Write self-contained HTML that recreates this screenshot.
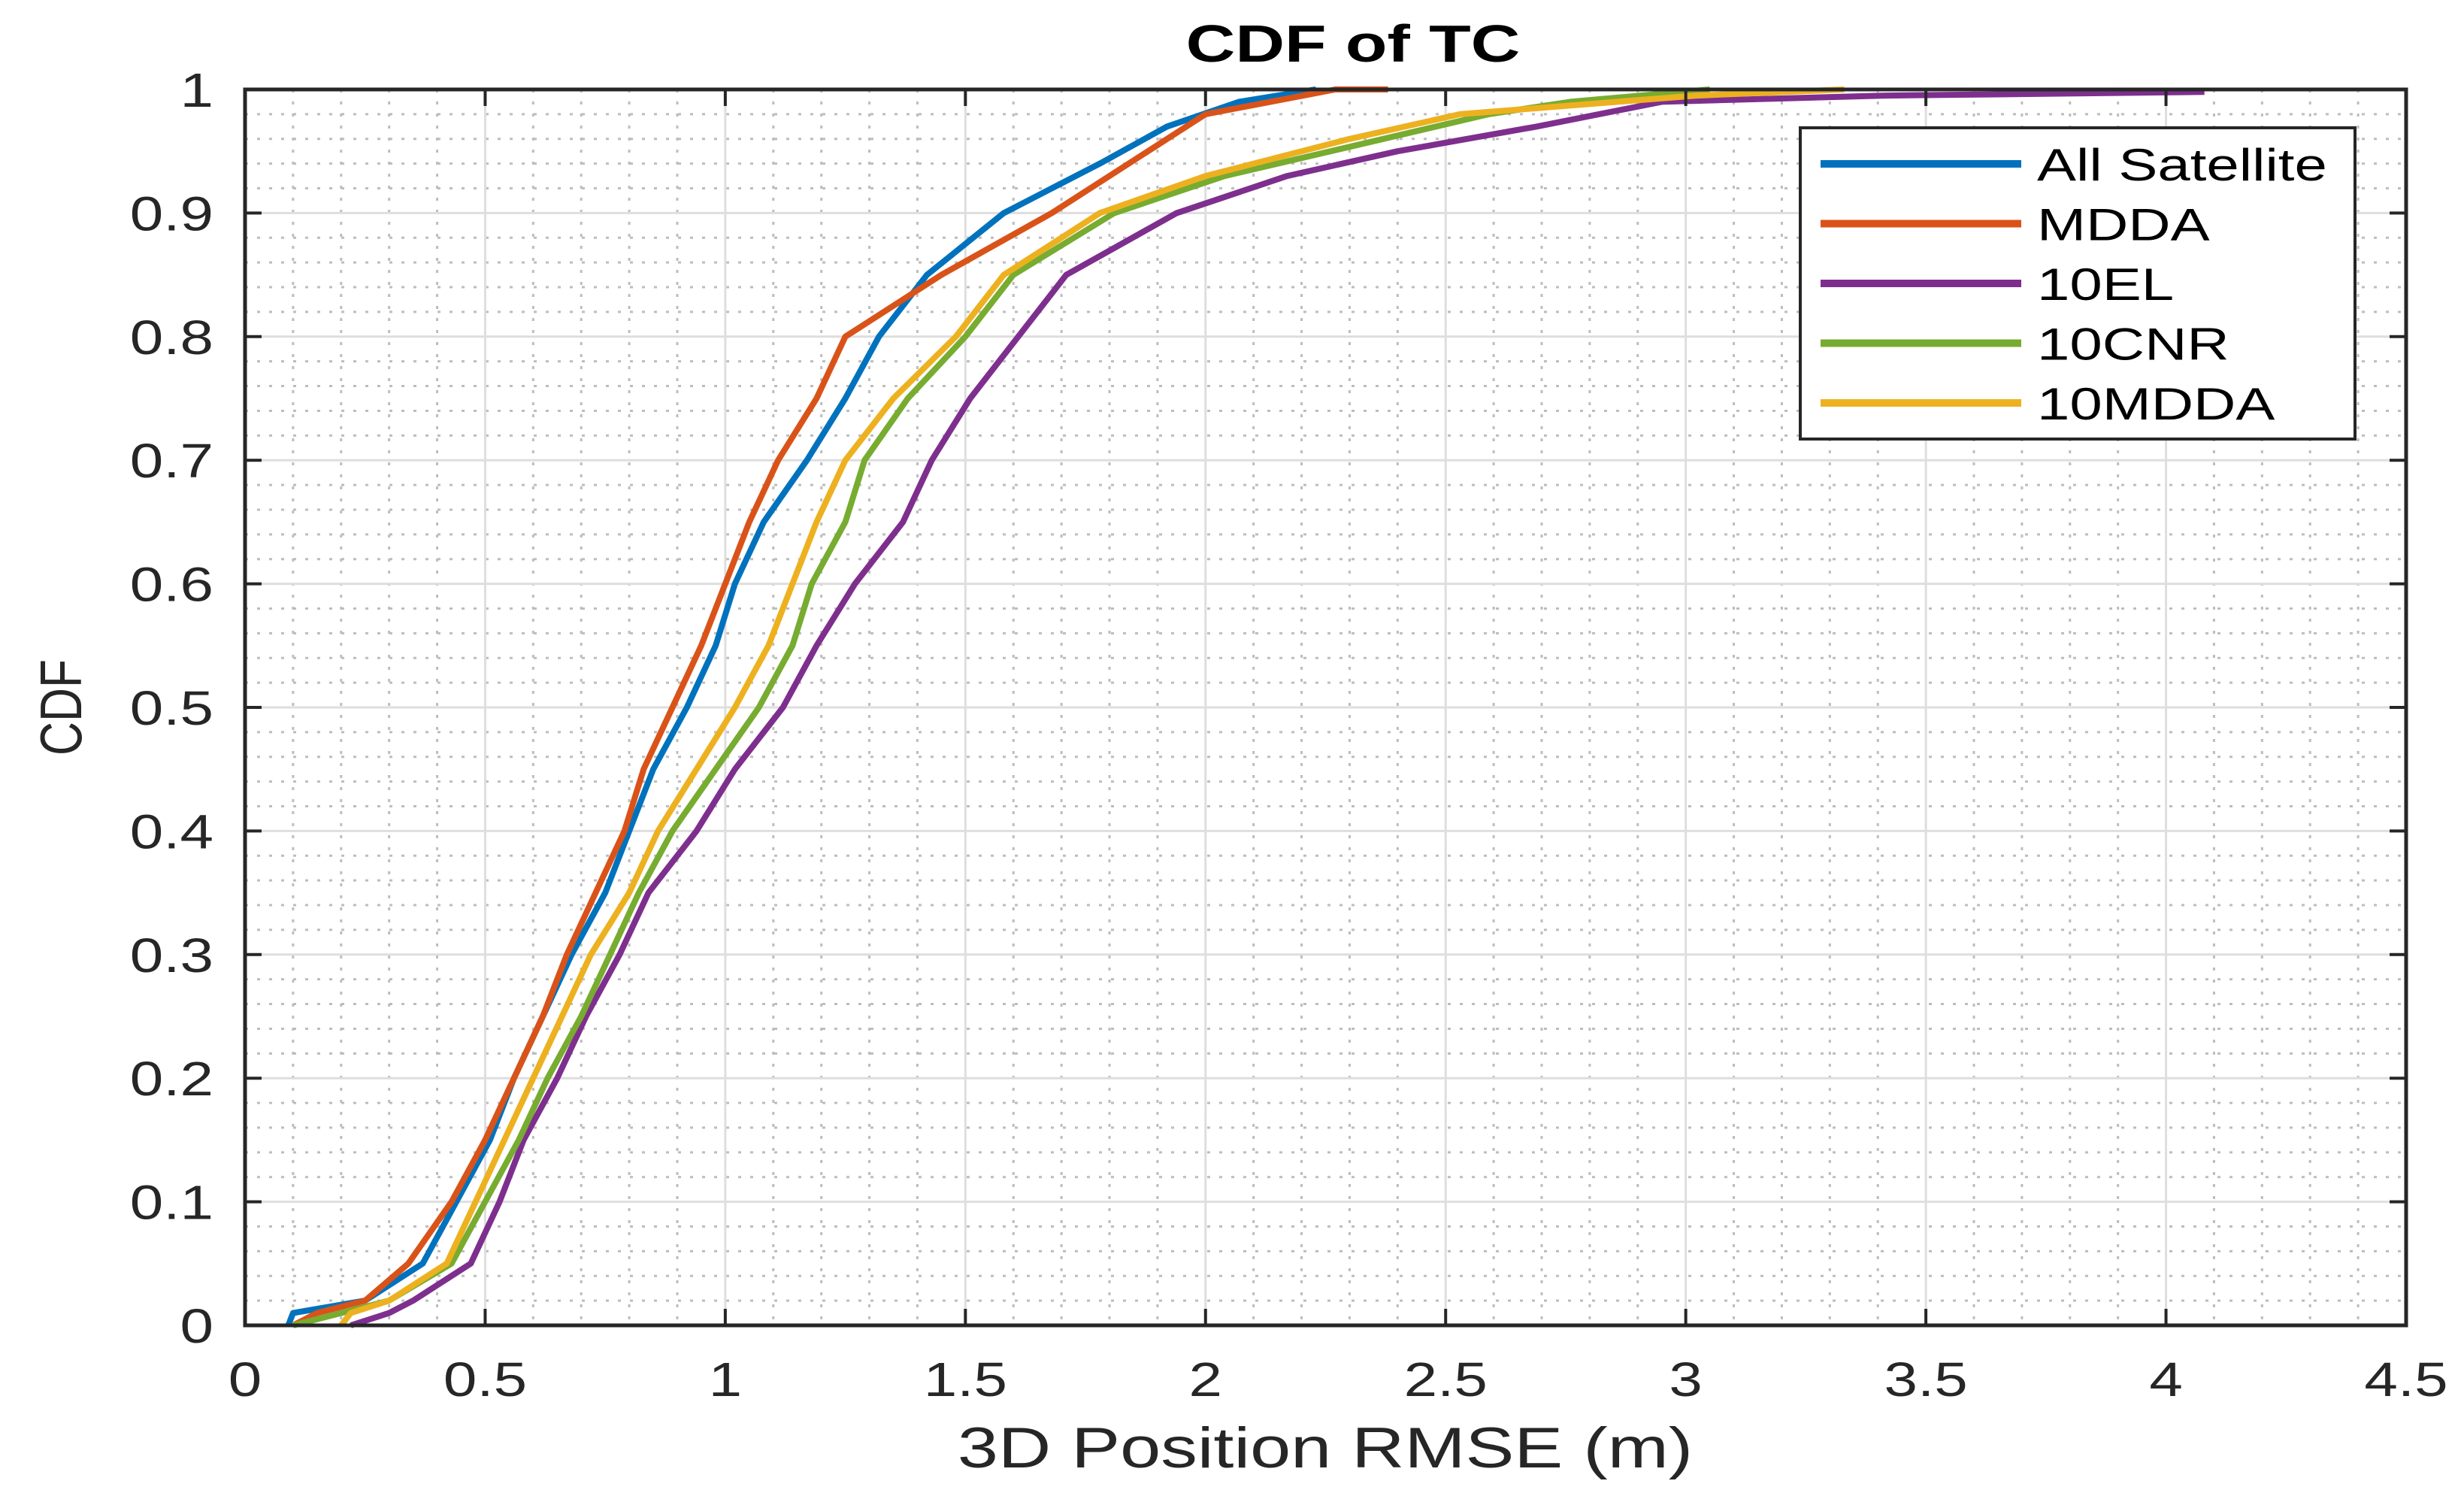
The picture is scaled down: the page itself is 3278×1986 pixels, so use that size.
<!DOCTYPE html>
<html><head><meta charset="utf-8"><style>
body{margin:0;background:#fff}
svg{display:block}
text{font-family:"Liberation Sans",sans-serif;fill:#262626}
</style></head><body>
<svg id="chart" width="3278" height="1986" viewBox="0 0 3278 1986" xmlns="http://www.w3.org/2000/svg">
<rect width="3278" height="1986" fill="#fff"/>
<g id="grid"></g>
<g id="series"></g>
<rect x="326" y="119" width="2875" height="1644" fill="none" stroke="#262626" stroke-width="5"/>
<g id="ticks"></g>
<text transform="translate(1800,82) scale(1.3,1)" font-size="70" font-weight="bold" text-anchor="middle" style="fill:#000">CDF of TC</text>
<text transform="translate(1763,1952) scale(1.28,1)" font-size="76" text-anchor="middle">3D Position RMSE (m)</text>
<text transform="translate(108,941) rotate(-90)" font-size="78" text-anchor="middle" textLength="128" lengthAdjust="spacingAndGlyphs">CDF</text>
<g id="legend"></g>
</svg>
<script>
const xTicks=[0,0.5,1,1.5,2,2.5,3,3.5,4,4.5];
const xTickLabels=["0","0.5","1","1.5","2","2.5","3","3.5","4","4.5"];
const yTicks=[0,0.1,0.2,0.3,0.4,0.5,0.6,0.7,0.8,0.9,1];
const yTickLabels=["0","0.1","0.2","0.3","0.4","0.5","0.6","0.7","0.8","0.9","1"];
const seriesNames=["All Satellite","MDDA","10EL","10CNR","10MDDA"];
const seriesColors=["#0072BD","#D95319","#7E2F8E","#77AC30","#EDB120"];
const allSatX=[0.09,0.10,0.25,0.37,0.44,0.51,0.56,0.62,0.68,0.75,0.80,0.85,0.92,0.98,1.02,1.08,1.17,1.25,1.32,1.42,1.58,1.78,1.92,2.07,2.23];
const allSatY=[0,0.01,0.02,0.05,0.1,0.15,0.2,0.25,0.3,0.35,0.4,0.45,0.5,0.55,0.6,0.65,0.7,0.75,0.8,0.85,0.9,0.94,0.97,0.99,1.0];
const mddaX=[0.10,0.15,0.25,0.34,0.43,0.50,0.56,0.62,0.67,0.73,0.79,0.83,0.89,0.95,1.00,1.05,1.11,1.19,1.25,1.45,1.68,1.88,2.00,2.27,2.38];
const mddaY=[0,0.01,0.02,0.05,0.1,0.15,0.2,0.25,0.3,0.35,0.4,0.45,0.5,0.55,0.6,0.65,0.7,0.75,0.8,0.85,0.9,0.95,0.98,1.0,1.0];
const el10X=[0.22,0.30,0.35,0.47,0.53,0.58,0.65,0.71,0.78,0.84,0.94,1.02,1.12,1.19,1.27,1.37,1.43,1.51,1.61,1.71,1.94,2.17,2.40,2.69,2.95,3.41,4.08];
const el10Y=[0,0.01,0.02,0.05,0.1,0.15,0.2,0.25,0.3,0.35,0.4,0.45,0.5,0.55,0.6,0.65,0.7,0.75,0.8,0.85,0.9,0.93,0.95,0.97,0.99,0.995,0.998];
const cnr10X=[0.10,0.20,0.30,0.43,0.50,0.57,0.63,0.70,0.76,0.82,0.89,0.98,1.07,1.14,1.18,1.25,1.29,1.38,1.50,1.60,1.81,2.04,2.37,2.59,2.76,3.05];
const cnr10Y=[0,0.01,0.02,0.05,0.1,0.15,0.2,0.25,0.3,0.35,0.4,0.45,0.5,0.55,0.6,0.65,0.7,0.75,0.8,0.85,0.9,0.93,0.96,0.98,0.99,1.0];
const mdda10X=[0.20,0.22,0.30,0.42,0.48,0.54,0.60,0.66,0.72,0.80,0.86,0.94,1.02,1.09,1.14,1.19,1.25,1.35,1.48,1.58,1.78,2.00,2.30,2.53,3.02,3.33];
const mdda10Y=[0,0.01,0.02,0.05,0.1,0.15,0.2,0.25,0.3,0.35,0.4,0.45,0.5,0.55,0.6,0.65,0.7,0.75,0.8,0.85,0.9,0.93,0.96,0.98,0.995,1.0];
const seriesX=[allSatX,mddaX,el10X,cnr10X,mdda10X];
const seriesY=[allSatY,mddaY,el10Y,cnr10Y,mdda10Y];

const NS="http://www.w3.org/2000/svg";
const X0=326,X1=3201,Y0=1763,Y1=119;
const sx=v=>X0+(v-0)/(4.5-0)*(X1-X0);
const sy=v=>Y0-(v-0)/(1-0)*(Y0-Y1);
function mk(tag,attrs,parent){const e=document.createElementNS(NS,tag);for(const k in attrs)e.setAttribute(k,attrs[k]);parent.appendChild(e);return e;}
const grid=document.getElementById('grid');
for(let i=1;i<45;i++){if(i%5===0)continue;const x=sx(i*0.1);
 const l=mk('line',{x1:x,x2:x,y1:Y1,y2:Y0,stroke:'#bdbdbd','stroke-width':3,'stroke-dasharray':'4 12'},grid);
 
 }
for(let i=1;i<50;i++){if(i%5===0)continue;const y=sy(i*0.02);
 const l=mk('line',{x1:X0,x2:X1,y1:y,y2:y,stroke:'#bdbdbd','stroke-width':3,'stroke-dasharray':'4 12'},grid);
 
 }
xTicks.forEach(v=>{const x=sx(v);
 const l=mk('line',{x1:x,x2:x,y1:Y1,y2:Y0,stroke:'#dedede','stroke-width':3},grid);
 
 });
yTicks.forEach(v=>{const y=sy(v);
 const l=mk('line',{x1:X0,x2:X1,y1:y,y2:y,stroke:'#dedede','stroke-width':3},grid);
 
 });
const sg=document.getElementById('series');
seriesX.forEach((xs,si)=>{const ys=seriesY[si];let pts=[];
 for(let i=0;i<xs.length;i++){pts.push(sx(xs[i]).toFixed(1)+','+sy(ys[i]).toFixed(1));}
 const p=mk('polyline',{points:pts.join(' '),fill:'none',stroke:seriesColors[si],'stroke-width':8,'stroke-linejoin':'round'},sg);
 
 });
const tg=document.getElementById('ticks');
xTicks.forEach((v,i)=>{const x=sx(v);
 const t1=mk('line',{x1:x,x2:x,y1:Y0,y2:Y0-22,stroke:'#262626','stroke-width':4},tg);
 
 
 const t2=mk('line',{x1:x,x2:x,y1:Y1,y2:Y1+22,stroke:'#262626','stroke-width':4},tg);
 
 
 const t=mk('text',{transform:'translate('+x+',1857) scale(1.25,1)','font-size':64,'text-anchor':'middle'},tg);t.textContent=xTickLabels[i];
 
 });
yTicks.forEach((v,i)=>{const y=sy(v);
 const t1=mk('line',{x1:X0,x2:X0+22,y1:y,y2:y,stroke:'#262626','stroke-width':4},tg);
 
 
 const t2=mk('line',{x1:X1,x2:X1-22,y1:y,y2:y,stroke:'#262626','stroke-width':4},tg);
 
 
 const t=mk('text',{transform:'translate(284,'+(y+23)+') scale(1.25,1)','font-size':64,'text-anchor':'end'},tg);t.textContent=yTickLabels[i];
 
 });
const lg=document.getElementById('legend');
const box=mk('rect',{x:2395,y:170,width:738,height:414,fill:'#fff',stroke:'#262626','stroke-width':4},lg);


seriesNames.forEach((n,i)=>{const y=218+i*79.5;
 const l=mk('line',{x1:2422,x2:2689,y1:y,y2:y,stroke:seriesColors[i],'stroke-width':10},lg);
 
 
 const t=mk('text',{transform:'translate(2710,'+(y+22)+') scale(1.3,1)','font-size':60},lg);t.textContent=n;t.style.fill='#000';
 
 });
</script>
</body></html>
